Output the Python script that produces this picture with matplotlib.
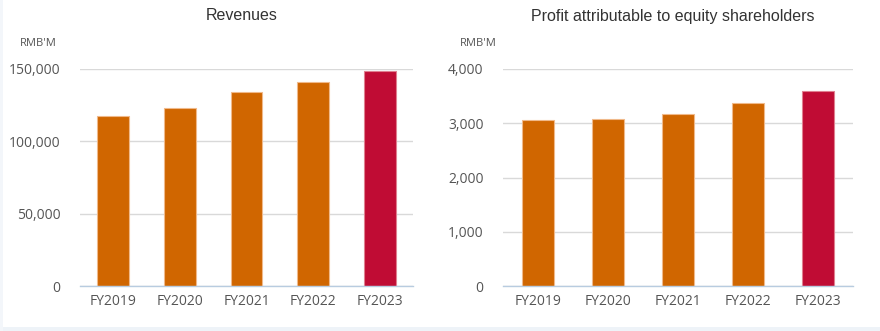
import matplotlib
matplotlib.use("Agg")
import matplotlib.pyplot as plt
from matplotlib.ticker import FuncFormatter
from matplotlib.patches import Rectangle

categories = ["FY2019", "FY2020", "FY2021", "FY2022", "FY2023"]
revenues = [117500, 122800, 134100, 140800, 148600]
profit = [3054, 3084, 3165, 3367, 3588]
rev_ticks = [0, 50000, 100000, 150000]
prof_ticks = [0, 1000, 2000, 3000, 4000]
titles = ["Revenues", "Profit attributable to equity shareholders"]
unit = "RMB'M"

orange = "#D06600"
red = "#C00C34"
colors = [orange, orange, orange, orange, red]

fig = plt.figure(figsize=(8.8, 3.31), dpi=100)
fig.patch.set_facecolor("white")
W, H = 880, 331

def px(x0, y0, x1, y1):
    return [x0 / W, 1 - y1 / H, (x1 - x0) / W, (y1 - y0) / H]

# light bluish frame strip at bottom
fig.patches.append(Rectangle((0, 0), 1, 4 / H, transform=fig.transFigure,
                             facecolor="#eef3f8", edgecolor="none"))
fig.patches.append(Rectangle((0, 0), 3 / W, 1, transform=fig.transFigure,
                             facecolor="#f3f6fa", edgecolor="none"))

specs = [
    (px(80, 69, 413, 286), revenues, rev_ticks, titles[0], 0.48, (20, 43)),
    (px(503, 69, 853, 286), profit, prof_ticks, titles[1], 0.47, (460, 43)),
]

tick_font = "Open Sans"
for rect, vals, ticks, title, bw, unitpos in specs:
    ax = fig.add_axes(rect)
    ax.set_facecolor("white")
    ax.bar(categories, vals, width=bw, color=colors, edgecolor=["#f0b98a"] * 4 + ["#e08090"],
           linewidth=0.8, zorder=3)
    ax.set_ylim(ticks[0], ticks[-1])
    ax.set_yticks(ticks)
    ax.yaxis.set_major_formatter(FuncFormatter(lambda v, p: f"{int(v):,}"))
    ax.grid(axis="y", color="#d9d9d9", linewidth=1.0, zorder=0)
    ax.set_axisbelow(True)
    for s in ["top", "right", "left"]:
        ax.spines[s].set_visible(False)
    ax.spines["bottom"].set_color("#b8cce0")
    ax.spines["bottom"].set_linewidth(1.0)
    ax.spines["bottom"].set_zorder(4)
    ax.tick_params(axis="both", length=0, colors="#555555", labelsize=10)
    ax.tick_params(axis="y", pad=14)
    ax.tick_params(axis="x", pad=6)
    for lab in ax.get_xticklabels() + ax.get_yticklabels():
        lab.set_fontfamily(tick_font)
    ax.set_xlim(-0.5, len(categories) - 0.5)
    bb = ax.get_position()
    fig.text(bb.x0 + bb.width / 2 - 5 / W, 1 - 16 / H, title, ha="center", va="center",
             fontsize=11.5, color="#333333", family="Liberation Sans")
    fig.text(unitpos[0] / W, 1 - unitpos[1] / H, unit, ha="left", va="center",
             fontsize=8, color="#555555", family=tick_font)

fig.savefig("out.png", dpi=100, facecolor="white")
